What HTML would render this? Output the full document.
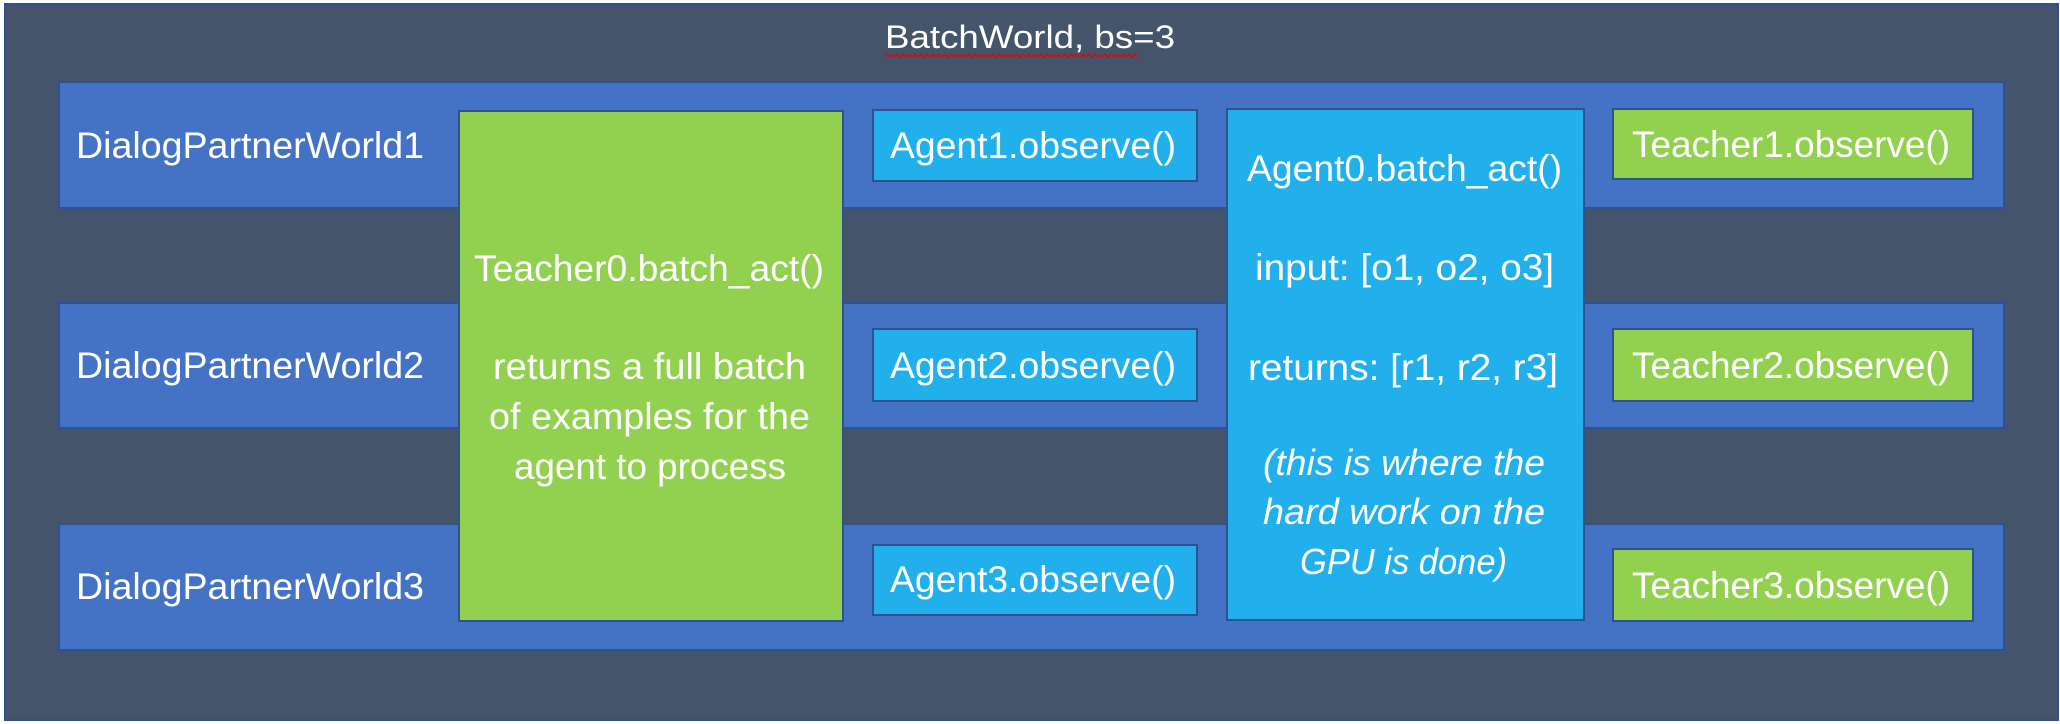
<!DOCTYPE html>
<html><head><meta charset="utf-8"><style>
html,body{margin:0;padding:0;background:#fff;}
svg{display:block;}
text{font-family:"Liberation Sans",sans-serif;fill:#fff;}
</style></head><body>
<svg width="2060" height="724" viewBox="0 0 2060 724" xmlns="http://www.w3.org/2000/svg">
<rect x="5" y="4" width="2053" height="716" fill="#44546A" stroke="#2F528F" stroke-width="2"/>
<text x="885" y="48" font-size="32" textLength="290" lengthAdjust="spacingAndGlyphs">BatchWorld, bs=3</text>
<path d="M885 54 l3 3 l3 -3 l3 3 l3 -3 l3 3 l3 -3 l3 3 l3 -3 l3 3 l3 -3 l3 3 l3 -3 l3 3 l3 -3 l3 3 l3 -3 l3 3 l3 -3 l3 3 l3 -3 l3 3 l3 -3 l3 3 l3 -3 l3 3 l3 -3 l3 3 l3 -3 l3 3 l3 -3 l3 3 l3 -3 l3 3 l3 -3 l3 3 l3 -3 l3 3 l3 -3 l3 3 l3 -3 l3 3 l3 -3 l3 3 l3 -3 l3 3 l3 -3 l3 3 l3 -3 l3 3 l3 -3 l3 3 l3 -3 l3 3 l3 -3 l3 3 l3 -3 l3 3 l3 -3 l3 3 l3 -3 l3 3 l3 -3 l3 3 l3 -3 l3 3 l3 -3 l3 3 l3 -3 l3 3 l3 -3 l3 3" fill="none" stroke="#e00" stroke-width="1.3"/>
<path d="M1099 54 l3 3 l3 -3 l3 3 l3 -3 l3 3 l3 -3 l3 3 l3 -3 l3 3 l3 -3 l3 3 l3 -3 l3 3" fill="none" stroke="#e00" stroke-width="1.3"/>

<g fill="#4472C4" stroke="#2F528F" stroke-width="2">
<rect x="59" y="82" width="1945" height="126"/>
<rect x="59" y="303" width="1945" height="125"/>
<rect x="59" y="524" width="1945" height="126"/>
</g>
<text x="76" y="158" font-size="37" textLength="348" lengthAdjust="spacingAndGlyphs">DialogPartnerWorld1</text>
<text x="76" y="378" font-size="37" textLength="348" lengthAdjust="spacingAndGlyphs">DialogPartnerWorld2</text>
<text x="76" y="599" font-size="37" textLength="348" lengthAdjust="spacingAndGlyphs">DialogPartnerWorld3</text>

<rect x="459" y="111" width="384" height="510" fill="#92D050" stroke="#2F528F" stroke-width="2"/>
<text x="474" y="281" font-size="37" textLength="350" lengthAdjust="spacingAndGlyphs">Teacher0.batch_act()</text>
<text x="493" y="379" font-size="37" textLength="313" lengthAdjust="spacingAndGlyphs">returns a full batch</text>
<text x="489" y="429" font-size="37" textLength="321" lengthAdjust="spacingAndGlyphs">of examples for the</text>
<text x="514" y="479" font-size="37" textLength="272" lengthAdjust="spacingAndGlyphs">agent to process</text>

<g fill="#21B0EB" stroke="#2F528F" stroke-width="2">
<rect x="873" y="110" width="324" height="71"/>
<rect x="873" y="329" width="324" height="72"/>
<rect x="873" y="545" width="324" height="70"/>
<rect x="1227" y="109" width="357" height="511"/>
</g>
<text x="890" y="158" font-size="37" textLength="286" lengthAdjust="spacingAndGlyphs">Agent1.observe()</text>
<text x="890" y="378" font-size="37" textLength="286" lengthAdjust="spacingAndGlyphs">Agent2.observe()</text>
<text x="890" y="592" font-size="37" textLength="286" lengthAdjust="spacingAndGlyphs">Agent3.observe()</text>

<text x="1247" y="181" font-size="37" textLength="315" lengthAdjust="spacingAndGlyphs">Agent0.batch_act()</text>
<text x="1255" y="280" font-size="37" textLength="299" lengthAdjust="spacingAndGlyphs">input: [o1, o2, o3]</text>
<text x="1248" y="380" font-size="37" textLength="310" lengthAdjust="spacingAndGlyphs">returns: [r1, r2, r3]</text>
<text x="1263" y="475" font-size="36" font-style="italic" textLength="282" lengthAdjust="spacingAndGlyphs">(this is where the</text>
<text x="1263" y="524" font-size="36" font-style="italic" textLength="282" lengthAdjust="spacingAndGlyphs">hard work on the</text>
<text x="1300" y="574" font-size="36" font-style="italic" textLength="207" lengthAdjust="spacingAndGlyphs">GPU is done)</text>

<g fill="#92D050" stroke="#2F528F" stroke-width="2">
<rect x="1613" y="109" width="360" height="70"/>
<rect x="1613" y="329" width="360" height="72"/>
<rect x="1613" y="549" width="360" height="72"/>
</g>
<text x="1632" y="157" font-size="37" textLength="318" lengthAdjust="spacingAndGlyphs">Teacher1.observe()</text>
<text x="1632" y="378" font-size="37" textLength="318" lengthAdjust="spacingAndGlyphs">Teacher2.observe()</text>
<text x="1632" y="598" font-size="37" textLength="318" lengthAdjust="spacingAndGlyphs">Teacher3.observe()</text>
</svg>
</body></html>
